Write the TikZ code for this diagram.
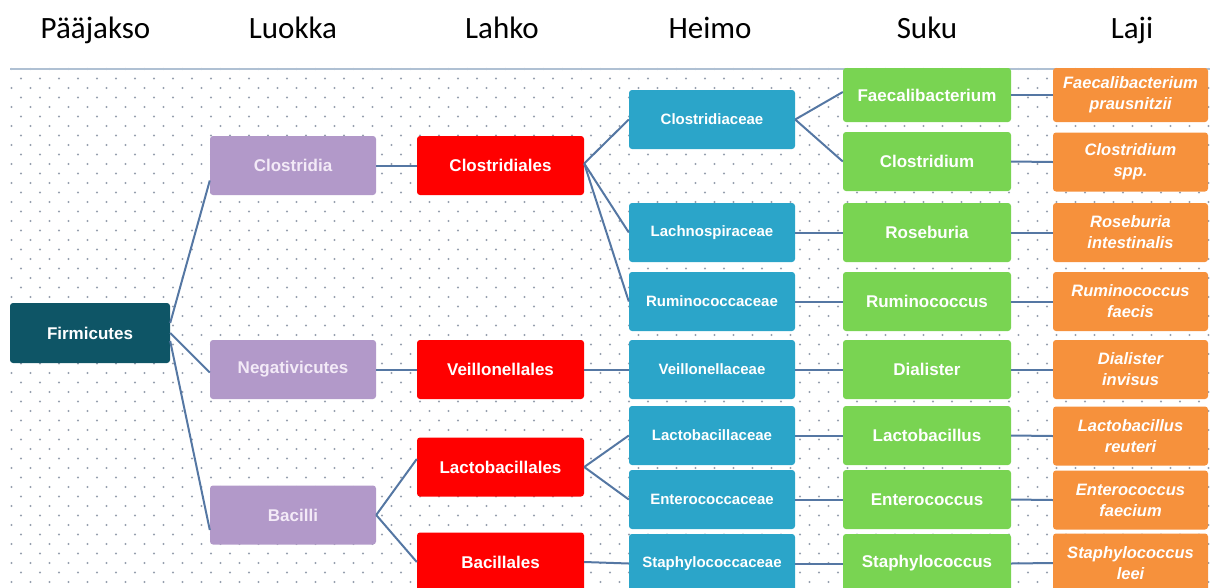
\documentclass[tikz,border=0pt]{standalone}
\usepackage{fontspec}
\setmainfont{Liberation Sans}
\newfontfamily\hdrfont{Carlito}
\definecolor{cfirm}{HTML}{0E5566}
\definecolor{cpurp}{HTML}{B299C9}
\definecolor{cpurptxt}{HTML}{F3EAF7}
\definecolor{cred}{HTML}{FF0000}
\definecolor{cblue}{HTML}{2BA5C9}
\definecolor{cgreen}{HTML}{79D452}
\definecolor{corange}{HTML}{F6913C}
\definecolor{cline}{HTML}{5577A3}
\definecolor{cdot}{HTML}{969FAE}
\definecolor{ctop}{HTML}{AFC0D3}
\begin{document}
\begin{tikzpicture}[x=1pt,y=-1pt,
  hdr/.style={font=\hdrfont\fontsize{31}{36}\selectfont, anchor=base, inner sep=0pt},
  box/.style={rounded corners=3pt, minimum width=166pt, minimum height=59pt, inner sep=0pt, align=center, text=white, font=\bfseries\fontsize{17}{20}\selectfont},
  firmbox/.style={box, fill=cfirm, minimum width=160pt, minimum height=60pt},
  luokka/.style={box, fill=cpurp, text=cpurptxt},
  lahko/.style={box, fill=cred, minimum width=167pt},
  heimo/.style={box, fill=cblue, font=\bfseries\fontsize{15}{18}\selectfont},
  suku/.style={box, fill=cgreen, minimum width=168pt},
  laji/.style={box, fill=corange, minimum width=155pt, font=\bfseries\itshape\fontsize{16.5}{21}\selectfont},
  conn/.style={draw=cline, line width=2pt}
]
\useasboundingbox (0,0) rectangle (1210,587);
\clip (0,0) rectangle (1210,587);
% background dots
\foreach \r in {0,...,55} {
  \pgfmathsetmacro{\yy}{69+9.5*\r}
  \pgfmathsetmacro{\off}{mod(\r,2)*9.5}
  \foreach \c in {0,...,63} {
    \fill[cdot] ({11.5+19*\c+\off},\yy) circle (1.1pt);
  }
}
\draw[ctop, line width=1.5pt] (10,69) -- (1210,69);

% headers
\node[hdr] (h1) at (95.5,38) {Pääjakso};
\node[hdr] (h2) at (293,38) {Luokka};
\node[hdr] (h3) at (502,38) {Lahko};
\node[hdr] (h4) at (710,38) {Heimo};
\node[hdr] (h5) at (927,38) {Suku};
\node[hdr] (h6) at (1132,38) {Laji};

% phylum
\node[firmbox] (firm) at (90,333) {Firmicutes};
% classes
\node[luokka] (clos) at (293,165.5) {Clostridia};
\node[luokka] (neg) at (293,369.5) {Negativicutes};
\node[luokka] (bac) at (293,515) {Bacilli};
% orders
\node[lahko] (clo2) at (500.5,165.5) {Clostridiales};
\node[lahko] (vei) at (500.5,369.5) {Veillonellales};
\node[lahko] (lac) at (500.5,467) {Lactobacillales};
\node[lahko] (bacl) at (500.5,562) {Bacillales};
% families
\node[heimo] (fclo) at (712,119.5) {Clostridiaceae};
\node[heimo] (flac) at (712,232.5) {Lachnospiraceae};
\node[heimo] (frum) at (712,301.5) {Ruminococcaceae};
\node[heimo] (fvei) at (712,369.5) {Veillonellaceae};
\node[heimo] (flab) at (712,435.5) {Lactobacillaceae};
\node[heimo] (fent) at (712,499.5) {Enterococcaceae};
\node[heimo] (fsta) at (712,563.5) {Staphylococcaceae};
% genera
\node[suku, minimum height=54pt] (gfae) at (927,95) {Faecalibacterium};
\node[suku] (gclo) at (927,161.5) {Clostridium};
\node[suku] (gros) at (927,232.5) {Roseburia};
\node[suku] (grum) at (927,301.5) {Ruminococcus};
\node[suku] (gdia) at (927,369.5) {Dialister};
\node[suku] (glac) at (927,435.5) {Lactobacillus};
\node[suku] (gent) at (927,499.5) {Enterococcus};
\node[suku] (gsta) at (927,563.5) {Staphylococcus};
% species
\node[laji, minimum height=54pt] (sfae) at (1130.5,95) {Faecalibacterium\\prausnitzii};
\node[laji] (sclo) at (1130.5,162) {Clostridium\\spp.};
\node[laji] (sros) at (1130.5,232.5) {Roseburia\\intestinalis};
\node[laji] (srum) at (1130.5,301.5) {Ruminococcus\\faecis};
\node[laji] (sdia) at (1130.5,369.5) {Dialister\\invisus};
\node[laji] (slac) at (1130.5,436) {Lactobacillus\\reuteri};
\node[laji] (sent) at (1130.5,500) {Enterococcus\\faecium};
\node[laji] (ssta) at (1130.5,563) {Staphylococcus\\leei};

% connectors
\draw[conn] ([yshift=10pt]firm.east) -- ([yshift=-15pt]clos.west);
\draw[conn] (firm.east) -- ([yshift=-3pt]neg.west);
\draw[conn] ([yshift=-8pt]firm.east) -- ([yshift=-15pt]bac.west);
\draw[conn] (clos.east) -- (clo2.west);
\draw[conn] (neg.east) -- (vei.west);
\draw[conn] (bac.east) -- ([yshift=8pt]lac.west);
\draw[conn] (bac.east) -- (bacl.west);
\draw[conn] ([yshift=2pt]clo2.east) -- (fclo.west);
\draw[conn] ([yshift=2pt]clo2.east) -- (flac.west);
\draw[conn] ([yshift=2pt]clo2.east) -- (frum.west);
\draw[conn] (vei.east) -- (fvei.west);
\draw[conn] (lac.east) -- (flab.west);
\draw[conn] (lac.east) -- (fent.west);
\draw[conn] (bacl.east) -- (fsta.west);
\draw[conn] (fclo.east) -- ([yshift=3pt]gfae.west);
\draw[conn] (fclo.east) -- (gclo.west);
\draw[conn] (flac.east) -- (gros.west);
\draw[conn] (frum.east) -- (grum.west);
\draw[conn] (fvei.east) -- (gdia.west);
\draw[conn] (flab.east) -- (glac.west);
\draw[conn] (fent.east) -- (gent.west);
\draw[conn] (fsta.east) -- (gsta.west);
\draw[conn] (gfae.east) -- (sfae.west);
\draw[conn] (gclo.east) -- (sclo.west);
\draw[conn] (gros.east) -- (sros.west);
\draw[conn] (grum.east) -- (srum.west);
\draw[conn] (gdia.east) -- (sdia.west);
\draw[conn] (glac.east) -- (slac.west);
\draw[conn] (gent.east) -- (sent.west);
\draw[conn] (gsta.east) -- (ssta.west);
\end{tikzpicture}
\end{document}
